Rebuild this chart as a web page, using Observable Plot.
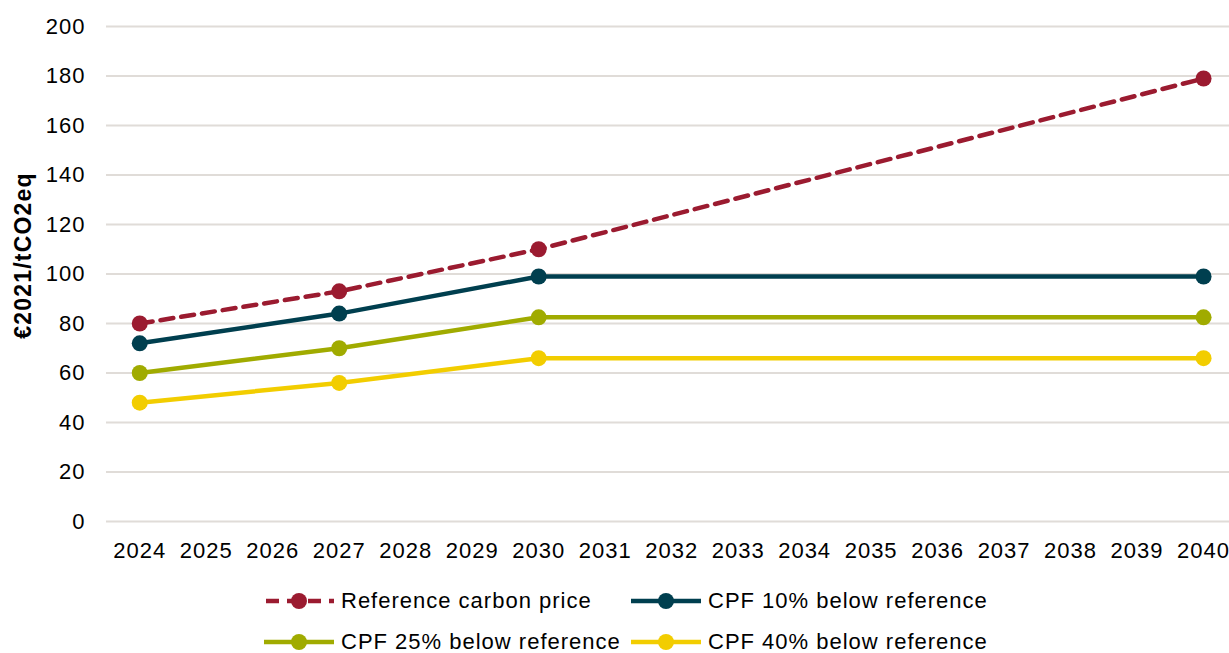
<!DOCTYPE html>
<html>
<head>
<meta charset="utf-8">
<script src="https://cdn.jsdelivr.net/npm/d3@7"></script>
<script src="https://cdn.jsdelivr.net/npm/@observablehq/plot@0.6"></script>
<style>
  body { margin: 0; background: #fff; font-family: "Liberation Sans", Arial, sans-serif; }
  #wrap { position: relative; width: 1229px; height: 653px; overflow: hidden; }
  #legend { position: absolute; left: 0; top: 0; width: 1229px; }
  .item { position: absolute; display: flex; align-items: center; font-size: 22px; line-height: 22px; letter-spacing: 1px; color: #000; white-space: nowrap; }
  .item svg { margin-right: 6px; }
</style>
</head>
<body>
<div id="wrap"><div id="chart"></div><div id="legend"></div></div>
<script>
const years = [2024, 2027, 2030, 2040];
const seriesNames = ["Reference carbon price", "CPF 10% below reference", "CPF 25% below reference", "CPF 40% below reference"];
const referencePrice = [80, 93, 110, 179];
const cpf10 = [72, 84, 99, 99];
const cpf25 = [60, 70, 82.5, 82.5];
const cpf40 = [48, 56, 66, 66];
const seriesColors = ["#9b1b30", "#003f4f", "#a0ab00", "#f2cd00"];
const xTicks = d3.range(2024, 2041);
const yTicks = d3.range(0, 201, 20);
const yLabel = "€2021/tCO2eq";

const allValues = [referencePrice, cpf10, cpf25, cpf40];
const rows = [];
allValues.forEach((vals, si) => vals.forEach((v, i) => rows.push({series: seriesNames[si], year: years[i], value: v})));

const lineMarks = seriesNames.map((name, si) =>
  Plot.line(rows.filter(d => d.series === name), {
    x: "year", y: "value", stroke: seriesColors[si], strokeWidth: 4.5,
    strokeDasharray: si === 0 ? "13,8" : null, curve: "linear"
  })
);
const dotMarks = seriesNames.map((name, si) =>
  Plot.dot(rows.filter(d => d.series === name), {x: "year", y: "value", r: 8, fill: seriesColors[si], stroke: "none"})
);

const chart = Plot.plot({
  width: 1229,
  height: 570,
  marginLeft: 106,
  marginRight: 0,
  marginTop: 26,
  marginBottom: 49,
  style: {fontFamily: "Liberation Sans, Arial, sans-serif", fontSize: "22px", letterSpacing: "1px", color: "#000", background: "#fff"},
  x: {type: "linear", domain: [2023.5, 2040.39], ticks: xTicks, tickFormat: d => String(d), tickSize: 0, tickPadding: 22, label: null},
  y: {domain: [0, 200], ticks: yTicks, tickSize: 0, tickPadding: 22, label: null},
  marks: [
    Plot.gridY(yTicks, {stroke: "#e0dcd8", strokeWidth: 2, strokeOpacity: 1}),
    ...lineMarks,
    ...dotMarks,
    Plot.axisX({ticks: xTicks, tickFormat: d => String(d), tickSize: 0, tickPadding: 21, label: null, fontSize: 22}),
    Plot.axisY({ticks: yTicks, tickSize: 0, tickPadding: 21, label: null, fontSize: 22}),
    Plot.text([yLabel], {frameAnchor: "left", dx: -83, rotate: -90, textAnchor: "middle", fontWeight: "bold", fontSize: 23, text: d => d, y: 107.5})
  ]
});
chart.querySelectorAll("text").forEach(t => { if (t.textContent === yLabel) t.setAttribute("letter-spacing", "1.2px"); });
document.getElementById("chart").appendChild(chart);

// Legend
const legend = document.getElementById("legend");
const positions = [[263, 601], [630, 601], [263, 642], [630, 642]];
seriesNames.forEach((name, si) => {
  const div = document.createElement("div");
  div.className = "item";
  div.style.left = positions[si][0] + "px";
  div.style.top = (positions[si][1] - 10) + "px";
  div.style.height = "20px";
  const dash = si === 0 ? 'stroke-dasharray="13,8" stroke-dashoffset="-2"' : "";
  div.innerHTML = `<svg width="72" height="20"><line x1="1" y1="10" x2="71" y2="10" stroke="${seriesColors[si]}" stroke-width="4.5" ${dash}/><circle cx="36" cy="10" r="8" fill="${seriesColors[si]}"/></svg><span>${name}</span>`;
  legend.appendChild(div);
});
</script>
</body>
</html>
